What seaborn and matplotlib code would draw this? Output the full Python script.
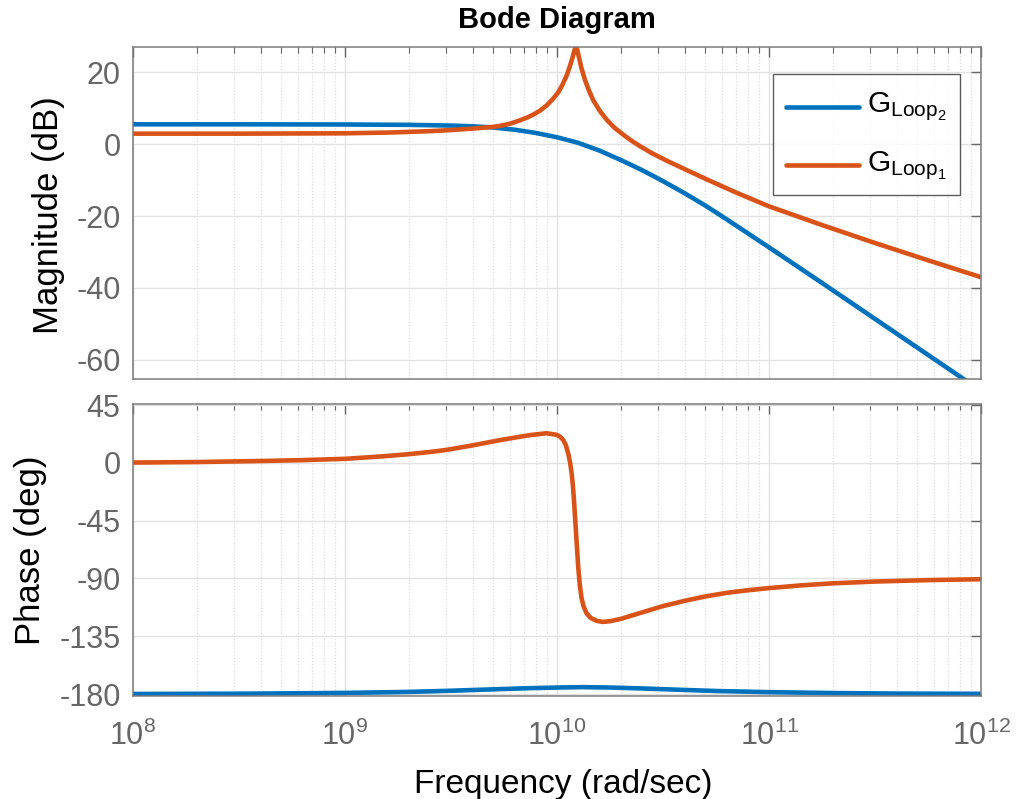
import numpy as np
import pandas as pd
import matplotlib
matplotlib.use("Agg")
import matplotlib.pyplot as plt
import matplotlib.ticker as mticker
import seaborn as sns

# Frequency points (log10 of rad/sec) and the response of each loop
loop2_mag_exp = [8.0, 8.5, 9.0, 9.3, 9.5, 9.6, 9.7, 9.8, 9.9, 10.0, 10.1, 10.2, 10.3,
                 10.4, 10.5, 10.6, 10.7, 10.8, 10.9, 11.0, 11.25, 11.5, 11.75, 12.0]
loop2_mag_db = [5.5, 5.5, 5.45, 5.35, 5.15, 4.95, 4.6, 4.0, 3.1, 1.9, 0.35, -1.8, -4.4,
                -7.2, -10.3, -13.6, -17.1, -20.9, -24.8, -28.7, -38.6, -48.6, -58.6, -68.6]

loop1_mag_exp = [8.0, 8.5, 9.0, 9.2, 9.4, 9.5, 9.6, 9.7, 9.731, 9.78, 9.825, 9.86,
                 9.888, 9.92, 9.95, 9.98, 10.006, 10.025, 10.045, 10.06, 10.072,
                 10.082, 10.09, 10.097, 10.102, 10.115, 10.132, 10.15, 10.171, 10.2,
                 10.234, 10.27, 10.313, 10.35, 10.392, 10.45, 10.517, 10.6, 10.706,
                 10.85, 11.0, 11.25, 11.5, 11.75, 12.0]
loop1_mag_db = [2.9, 2.9, 3.0, 3.2, 3.6, 3.9, 4.3, 4.8, 5.05, 5.7, 6.6, 7.4,
                8.2, 9.3, 10.7, 12.5, 14.4, 16.4, 19.0, 21.5, 23.8,
                26.0, 27.4, 25.8, 24.5, 21.2, 17.8, 15.0, 12.2, 9.4,
                6.8, 4.6, 2.6, 1.0, -0.6, -2.6, -4.6, -6.9, -9.8,
                -13.6, -17.3, -22.5, -27.5, -32.3, -37.0]

loop2_ph_exp = [8.0, 8.5, 9.0, 9.3, 9.5, 9.7, 9.85, 10.0, 10.12, 10.25, 10.4, 10.55,
                10.75, 11.0, 11.3, 11.6, 12.0]
loop2_ph_deg = [-179.9, -179.7, -179.1, -178.3, -177.4, -176.3, -175.5, -174.9, -174.6,
                -174.9, -175.6, -176.5, -177.6, -178.5, -179.2, -179.6, -179.8]

loop1_ph_exp = [8.0, 8.3, 8.63, 8.8, 9.0, 9.165, 9.3, 9.42, 9.48, 9.6, 9.716, 9.778,
                9.873, 9.951, 9.998, 10.015, 10.03, 10.042, 10.054, 10.062, 10.069,
                10.075, 10.08, 10.09, 10.1, 10.108, 10.116, 10.125, 10.14, 10.16,
                10.187, 10.215, 10.25, 10.3, 10.4, 10.5, 10.6, 10.7, 10.8, 10.9,
                11.0, 11.15, 11.3, 11.5, 11.75, 12.0]
loop1_ph_deg = [0.2, 0.6, 1.5, 2.1, 3.1, 4.9, 6.7, 8.8, 10.1, 13.5, 17.2, 19.0,
                21.6, 23.0, 21.8, 20.3, 17.6, 13.5, 6.5, 0.0, -8.0,
                -18.0, -29.0, -55.0, -81.0, -96.0, -105.5, -111.5, -117.3, -120.8,
                -123.0, -123.8, -123.3, -121.5, -116.5, -111.5, -107.5, -104.0, -101.2,
                -99.2, -97.5, -95.4, -93.8, -92.4, -91.3, -90.6]

series_names = [r"$\mathregular{G_{Loop_2}}$", r"$\mathregular{G_{Loop_1}}$"]
series_colors = ["#0072BD", "#D95319"]


def long_frame(exp2, val2, exp1, val1):
    return pd.concat([
        pd.DataFrame({"freq": 10.0 ** np.asarray(exp2), "value": val2,
                      "loop": series_names[0]}),
        pd.DataFrame({"freq": 10.0 ** np.asarray(exp1), "value": val1,
                      "loop": series_names[1]}),
    ], ignore_index=True)


mag_df = long_frame(loop2_mag_exp, loop2_mag_db, loop1_mag_exp, loop1_mag_db)
ph_df = long_frame(loop2_ph_exp, loop2_ph_deg, loop1_ph_exp, loop1_ph_deg)

sns.set_style("white")
plt.rcParams["font.family"] = ["Liberation Sans", "DejaVu Sans"]
plt.rcParams["mathtext.fontset"] = "custom"
plt.rcParams["mathtext.rm"] = "Liberation Sans"
plt.rcParams["axes.unicode_minus"] = False
plt.rcParams["text.color"] = "black"

axis_gray = "#666666"
fig = plt.figure(figsize=(10.24, 7.99), dpi=100)
ax_mag = fig.add_axes([0.1299, 0.5257, 0.8281, 0.4155])
ax_ph = fig.add_axes([0.1299, 0.1289, 0.8281, 0.3655])

palette = dict(zip(series_names, series_colors))
sns.lineplot(data=mag_df, x="freq", y="value", hue="loop", hue_order=series_names,
             palette=palette, estimator=None, sort=True, linewidth=3.3, ax=ax_mag)
sns.lineplot(data=ph_df, x="freq", y="value", hue="loop", hue_order=series_names,
             palette=palette, estimator=None, sort=True, linewidth=3.3, ax=ax_ph,
             legend=False)

for ax in (ax_mag, ax_ph):
    ax.set_xscale("log")
    ax.set_xlim(1e8, 1e12)
    ax.xaxis.set_major_locator(mticker.LogLocator(base=10, numticks=10))
    ax.xaxis.set_minor_locator(mticker.LogLocator(base=10, subs=np.arange(2, 10),
                                                  numticks=100))
    ax.grid(True, which="major", color="#e2e2e2", linewidth=1.0, linestyle="-")
    ax.grid(True, which="minor", axis="x", color="#dcdcdc", linewidth=0.9,
            linestyle=(0, (1, 1.5)))
    ax.set_axisbelow(True)
    ax.tick_params(which="both", direction="in", top=True, right=True,
                   colors=axis_gray, labelsize=22)
    ax.tick_params(which="major", length=7, width=1)
    ax.tick_params(which="minor", length=4, width=0.8)
    ax.tick_params(axis="y", which="minor", left=False, right=False)
    ax.tick_params(axis="y", which="major", pad=9)
    ax.tick_params(axis="x", which="major", pad=18)
    for sp in ax.spines.values():
        sp.set_color("#7a7a7a")
        sp.set_linewidth(1.1)

ax_mag.set_ylim(-65.3, 27.0)
ax_mag.set_yticks([-60, -40, -20, 0, 20])
ax_mag.tick_params(axis="x", which="both", labelbottom=False)
ax_mag.set_xlabel("")
ax_mag.set_ylabel("Magnitude (dB)", fontsize=25, color="black")
ax_mag.yaxis.set_label_coords(-0.080, 0.494)
ax_mag.set_title("Bode Diagram", fontsize=21, fontweight="bold", pad=14,
                 color="black")

ax_ph.set_ylim(-181.5, 45.8)
ax_ph.set_yticks([-180, -135, -90, -45, 0, 45])
ax_ph.set_ylabel("Phase (deg)", fontsize=25, color="black")
ax_ph.yaxis.set_label_coords(-0.101, 0.5)
ax_ph.set_xlabel("Frequency (rad/sec)", fontsize=24, color="black")
ax_ph.xaxis.set_label_coords(0.507, -0.25)

leg = ax_mag.legend(loc="upper right", bbox_to_anchor=(0.975, 0.919), fontsize=21.5,
                    frameon=True, fancybox=False, edgecolor="#333333",
                    handlelength=2.45, handleheight=1.14, handletextpad=0.25,
                    labelspacing=0.77, borderpad=0.45, borderaxespad=0.0, title=None)
leg.get_frame().set_linewidth(1.0)
# sit each legend line level with the base of its label
for line in leg.get_lines():
    line.set_linewidth(3.3)
    line.set_ydata(np.asarray(line.get_ydata(), dtype=float) - 5.0)

fig.savefig("out.png", dpi=100)
